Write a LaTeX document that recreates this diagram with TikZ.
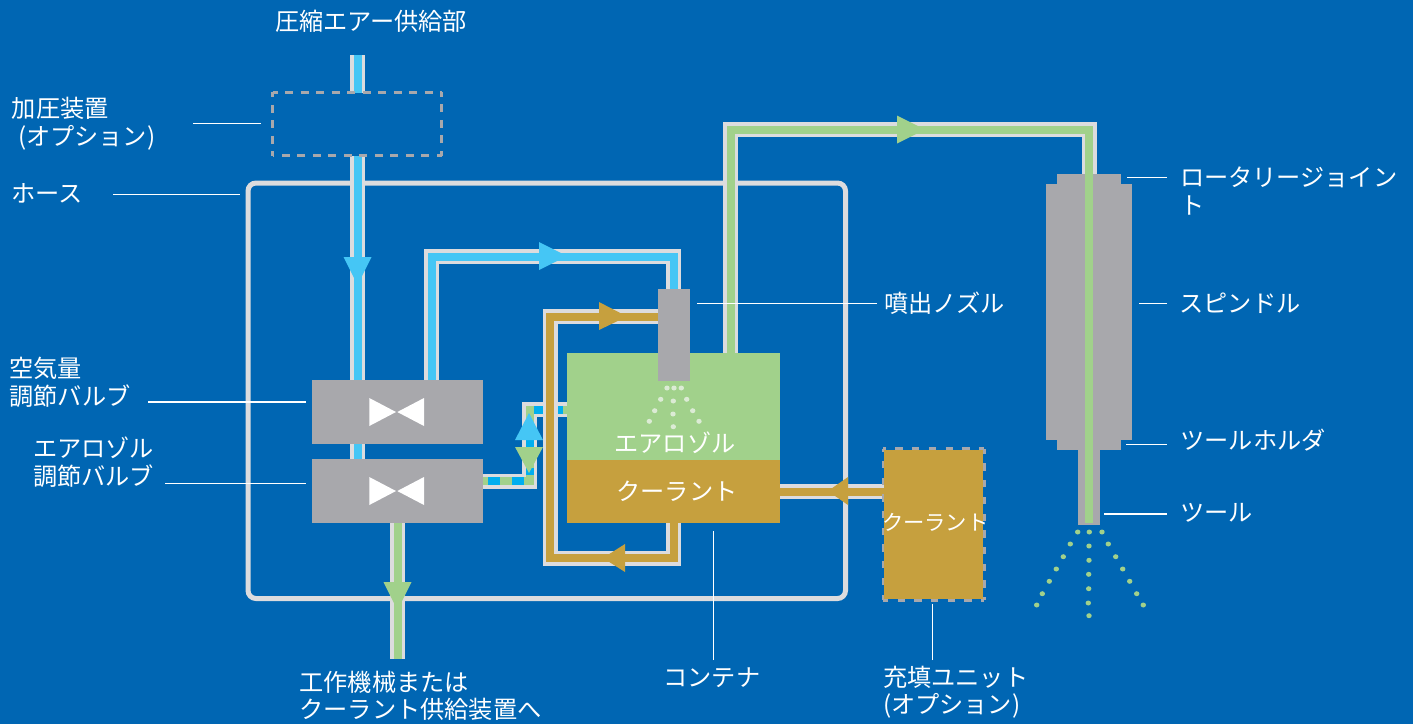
\documentclass[tikz,border=0pt]{standalone}
\usepackage{fontspec}
\setmainfont{Noto Sans CJK JP}
\definecolor{bgblue}{HTML}{0066B3}
\definecolor{pipegray}{HTML}{DCDCDE}
\definecolor{airblue}{HTML}{45C6F5}
\definecolor{dashblue}{HTML}{00AEEF}
\definecolor{mistgreen}{HTML}{A1D18B}
\definecolor{coolbrown}{HTML}{C6A03E}
\definecolor{partgray}{HTML}{A8A8AC}
\definecolor{palemist}{HTML}{DCEBD5}
\tikzset{
  x=1pt,y=-1pt,
  pipe/.style={draw=pipegray,line width=3.5pt,double distance=8pt,double=#1,line join=miter},
  block/.style={rectangle,fill=#1,draw=none,inner sep=0pt,outer sep=0pt},
  label/.style={text=white,anchor=west,inner sep=0pt,outer sep=0pt,align=left,font=\fontsize{24.2}{27.5}\selectfont},
  leader/.style={draw=white,line width=1.3pt},
  hose/.style={draw=pipegray,line width=5pt,rounded corners=8pt},
  head/.style={fill=#1,draw=none},
  dot/.style={ellipse,fill=#1,draw=none,inner sep=0pt,outer sep=0pt,minimum width=5.4pt,minimum height=5pt},
  inner/.style={draw=#1,line width=8pt},
  boxedge/.style={draw=partgray,line width=3pt,dash pattern=on 8pt off 7.5pt,dash phase=3pt},
  filledge/.style={draw=partgray,line width=3pt,dash pattern=on 7.3pt off 9.4pt,dash phase=4.3pt},
  plain/.style={rectangle,draw=none,inner sep=0pt,outer sep=0pt},
}
\usetikzlibrary{shapes.geometric}
\begin{document}
\begin{tikzpicture}
\useasboundingbox (0,0) rectangle (1413,724);
\fill[bgblue] (0,0) rectangle (1413,724);

% named ports and free ends
\coordinate (airIn) at (357.5,55);
\coordinate (boxTop) at (357.5,93);
\coordinate (boxBottom) at (357.5,156);
\coordinate (airDown) at (357.5,460);
\coordinate (outEnd) at (397.5,659);

% hose
\draw[hose] (248,183) rectangle (845.5,598.5);

% blocks first named, drawn later over the pipes
\node[plain,minimum width=171pt,minimum height=64pt] (valveA) at (397.5,412) {};
\node[plain,minimum width=171pt,minimum height=64pt] (valveB) at (397.5,491) {};
\node[plain,minimum width=32pt,minimum height=92pt] (nozzle) at (674,335) {};
\node[plain,minimum width=213pt,minimum height=107pt] (mist) at (673.5,406.5) {};
\node[plain,minimum width=213pt,minimum height=63pt] (coolant) at (673.5,491.5) {};
\node[plain,minimum width=99pt,minimum height=149pt] (fill) at (933.5,524.5) {};
\node[plain,minimum width=64pt,minimum height=10pt] (jointTop) at (1089,179) {};
\node[plain,minimum width=86pt,minimum height=256pt] (spindle) at (1089,312) {};
\node[plain,minimum width=64pt,minimum height=10pt] (holder) at (1089,445) {};
\node[plain,minimum width=22pt,minimum height=75pt] (tool) at (1089,487.5) {};
\node[plain,minimum width=169pt,minimum height=63.5pt] (booster) at (357,123.75) {};
\node[plain,minimum width=101pt,minimum height=151.5pt] (fillEdge) at (933.5,524.25) {};

% air pipes
\draw[pipe=airblue] (airIn) -- (boxTop);
\draw[pipe=airblue] (boxBottom) -- (airDown);
\draw[pipe=airblue] (valveA.north -| 431.5,0) -- (431.5,256.5) -- (673.5,256.5) -- (nozzle.north -| 673.5,0);

% mixed pipe
\coordinate (mixA) at (529.5,481);
\coordinate (mixB) at (529.5,409.5);
\draw[pipe=mistgreen] (valveB.east |- mixA) -- (mixA) -- (mixB) -- (mist.west |- mixB);
\draw[inner=dashblue] (488,481) -- (500,481);
\draw[inner=dashblue] (512,481) -- (524,481);
\draw[inner=dashblue] (529.5,475) -- (529.5,468);
\draw[inner=dashblue] (529.5,447) -- (529.5,440);
\draw[inner=dashblue] (534,409.5) -- (544,409.5);
\draw[inner=dashblue] (553,409.5) -- (563,409.5);

% coolant pipes
\draw[pipe=coolbrown] (nozzle.west |- 0,316.5) -- (550,316.5) -- (550,558) -- (673.5,558) -- (coolant.south -| 673.5,0);
\draw[pipe=coolbrown] (fill.west |- coolant) -- (coolant.east);

% mist pipes
\draw[pipe=mistgreen] (mist.north -| 730.5,0) -- (730.5,129.5) -- (1089,129.5) -- (jointTop.north);
\draw[pipe=mistgreen] (valveB.south) -- (outEnd);

% blocks
\node[block=mistgreen,minimum width=213pt,minimum height=107pt] at (mist) {};
\node[block=coolbrown,minimum width=213pt,minimum height=63pt] at (coolant) {};
\node[block=partgray,minimum width=32pt,minimum height=92pt] at (nozzle) {};
\node[block=partgray,minimum width=171pt,minimum height=64pt] at (valveA) {};
\node[block=partgray,minimum width=171pt,minimum height=64pt] at (valveB) {};
\node[block=partgray,minimum width=64pt,minimum height=10pt] at (jointTop) {};
\node[block=partgray,minimum width=86pt,minimum height=256pt] at (spindle) {};
\node[block=partgray,minimum width=64pt,minimum height=10pt] at (holder) {};
\node[block=partgray,minimum width=22pt,minimum height=75pt] at (tool) {};
\draw[inner=mistgreen] (jointTop.north) -- (1089,522.7);

% valve symbols
\fill[white] (369.3,398) -- (396,412) -- (369.3,426) -- cycle;
\fill[white] (424,398) -- (397.3,412) -- (424,426) -- cycle;
\fill[white] (369.3,477) -- (396,491) -- (369.3,505) -- cycle;
\fill[white] (424,477) -- (397.3,491) -- (424,505) -- cycle;

% optional units
\draw[boxedge] (booster.north west) -- (booster.north east);
\draw[boxedge] (booster.north west) -- (booster.south west);
\draw[boxedge] (booster.south east) -- (booster.south west);
\draw[boxedge] (booster.south east) -- (booster.north east);
\draw[filledge] (fillEdge.north west) -- (fillEdge.north east);
\draw[filledge] (fillEdge.north west) -- (fillEdge.south west);
\draw[filledge] (fillEdge.south east) -- (fillEdge.south west);
\draw[filledge] (fillEdge.south east) -- (fillEdge.north east);
\node[block=coolbrown,minimum width=99pt,minimum height=149pt] at (fill) {};

% arrowheads
\fill[head=airblue] (343.5,257) -- (371.5,257) -- (357.5,285) -- cycle;
\fill[head=airblue] (539,242) -- (539,270) -- (567,256) -- cycle;
\fill[head=coolbrown] (599,302) -- (599,330) -- (627,316.5) -- cycle;
\fill[head=mistgreen] (897,115.5) -- (897,143.5) -- (925,129.5) -- cycle;
\fill[head=coolbrown] (625,544) -- (625,572) -- (603,558) -- cycle;
\fill[head=coolbrown] (848,477) -- (848,505) -- (828,491) -- cycle;
\fill[head=mistgreen] (383.5,582) -- (411.5,582) -- (397.5,610) -- cycle;
\fill[head=airblue] (515,440) -- (543,440) -- (529,413) -- cycle;
\fill[head=mistgreen] (515,447) -- (543,447) -- (529,473) -- cycle;

% spray from the tool
\foreach \px/\py in {1077.7/532,1089.3/532,1102/532,
  1070.3/544,1089/546,1108.3/544,
  1063.3/556.7,1089/560.3,1115.7/556.7,
  1056.3/569,1088.7/574.3,1122.7/569,
  1049.3/581.3,1088.7/588.7,1129.7/581.3,
  1042.3/593.7,1088.3/603,1136.7/593.7,
  1036.7/605,1089/615.7,1143.3/605}
  \node[dot=mistgreen] at (\px,\py) {};
% spray from the nozzle
\foreach \px/\py in {667/388,674/388,681.3/388,
  660.7/399.3,673.3/401,686.7/399.3,
  654.7/410.7,673/414,692.7/410.7,
  649.3/421.3,673.3/426.7,699/421.3}
  \node[dot=palemist] at (\px,\py) {};

% leaders
\coordinate (l1) at (193,123.5);
\draw[leader] (l1) -- (261,123.5);
\coordinate (l2) at (113,194.5);
\draw[leader] (l2) -- (240,194.5);
\coordinate (l3) at (148,402);
\draw[leader] (l3) -- (306,402);
\coordinate (l4) at (165,483.5);
\draw[leader] (l4) -- (306,483.5);
\coordinate (l5) at (877,303.5);
\draw[leader] (l5) -- (697,303.5);
\coordinate (l6) at (1167,177.5);
\draw[leader] (l6) -- (1127,177.5);
\coordinate (l7) at (1167,303.5);
\draw[leader] (l7) -- (1139,303.5);
\coordinate (l8) at (1167,444.5);
\draw[leader] (l8) -- (1126,444.5);
\coordinate (l9) at (1167,514);
\draw[leader] (l9) -- (1104,514);
\coordinate (l10) at (713.5,660);
\draw[leader] (l10) -- (713.5,531);
\coordinate (l11) at (932.5,660);
\draw[leader] (l11) -- (932.5,604);

% labels
\node[label] (tSupply) at (275,21) {圧縮エアー供給部};
\node[label] (tBooster) at (12,123.5) {加圧装置\\\hspace*{6pt}(オプション)};
\node[label] (tHose) at (11.5,193) {ホース};
\node[label] (tAirValve) at (9.5,382.5) {空気量\\調節バルブ};
\node[label] (tMistValve) at (33,462) {エアロゾル\\調節バルブ};
\node[label] (tOut) at (299.5,696) {工作機械または\\クーラント供給装置へ};
\node[label] (tContainer) at (663.5,678) {コンテナ};
\node[label] (tFill) at (883,692) {充填ユニット\\(オプション)};
\node[label] (tNozzle) at (884,303) {噴出ノズル};
\node[label] (tJoint) at (1180,191) {ロータリージョイン\\ト};
\node[label] (tSpindle) at (1179.5,303) {スピンドル};
\node[label] (tHolder) at (1180.5,440.5) {ツールホルダ};
\node[label] (tTool) at (1180,513) {ツール};
\node[label] (tMist) at (614.5,442.5) {エアロゾル};
\node[label] (tCool) at (616.5,491.5) {クーラント};
\node[label,font=\fontsize{21.3}{24}\selectfont] (tFillCool) at (882,522) {クーラント};
\end{tikzpicture}
\end{document}
